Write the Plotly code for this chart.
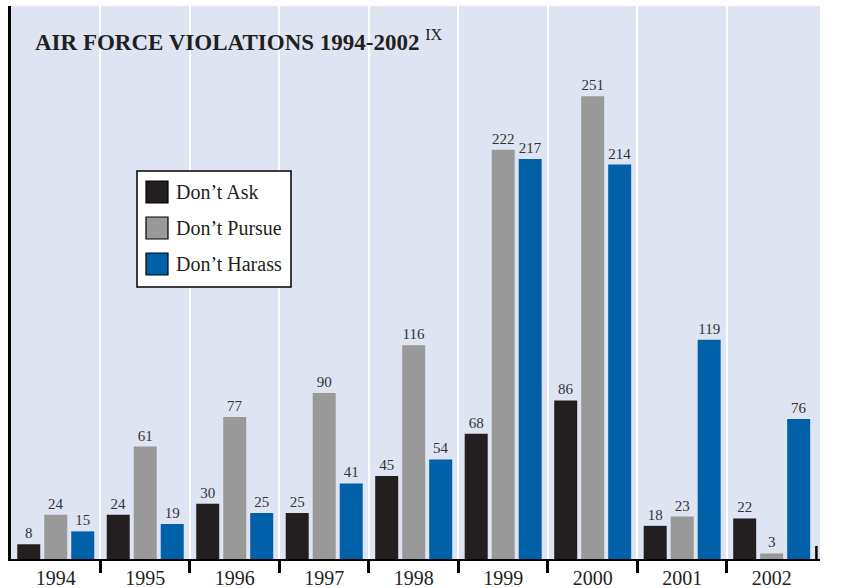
import plotly.graph_objects as go

years = ["1994", "1995", "1996", "1997", "1998", "1999", "2000", "2001", "2002"]
dont_ask = [8, 24, 30, 25, 45, 68, 86, 18, 22]
dont_pursue = [24, 61, 77, 90, 116, 222, 251, 23, 3]
dont_harass = [15, 19, 25, 41, 54, 217, 214, 119, 76]
series_names = ["Don\u2019t Ask", "Don\u2019t Pursue", "Don\u2019t Harass"]
colors = ["#231f20", "#999999", "#0061a9"]

W, H = 843, 588
L, R, T, B = 11, 23, 6, 29
PW, PH = W - L - R, H - T - B
SERIF = "Liberation Serif, Times New Roman, serif"

xpos = list(range(len(years)))

fig = go.Figure()
for name, vals, col in zip(series_names, [dont_ask, dont_pursue, dont_harass], colors):
    fig.add_trace(go.Bar(
        x=xpos, y=vals, name=name, marker=dict(color=col, line=dict(width=0)),
        text=[str(v) for v in vals], textposition="outside", cliponaxis=False,
        textfont=dict(family=SERIF, size=15, color="#333333"),
        showlegend=False, hoverinfo="skip",
    ))

def px_x(px):
    return (px - L) / PW

def px_y(py):
    return (H - B - py) / PH

shapes = []
annotations = []
# legend box
shapes.append(dict(type="rect", xref="paper", yref="paper",
                   x0=px_x(137), x1=px_x(291), y0=px_y(287), y1=px_y(171),
                   fillcolor="white", line=dict(color="black", width=1.5), layer="above"))
for i, (name, col) in enumerate(zip(series_names, colors)):
    top = 181 + i * 36
    shapes.append(dict(type="rect", xref="paper", yref="paper",
                       x0=px_x(146), x1=px_x(168), y0=px_y(top + 22), y1=px_y(top),
                       fillcolor=col, line=dict(color="black", width=1.2), layer="above"))
    annotations.append(dict(xref="paper", yref="paper", x=px_x(174), y=px_y(top + 11),
                            xanchor="left", yanchor="middle", text=name, showarrow=False,
                            font=dict(family=SERIF, size=20, color="#231f20")))
# right-end upward tick
shapes.append(dict(type="line", xref="x", yref="paper", x0=8.5, x1=8.5,
                   y0=0, y1=px_y(546), line=dict(color="black", width=2.5)))

fig.update_layout(
    width=W, height=H,
    margin=dict(l=L, r=R, t=T, b=B, autoexpand=False),
    paper_bgcolor="white", plot_bgcolor="#dfe4f2",
    barmode="group", bargap=0.095, bargroupgap=0.148,
    title=dict(text="<b>AIR FORCE VIOLATIONS 1994-2002</b> <sup>IX</sup>",
               x=35 / W, xanchor="left", y=1 - 42 / H, yanchor="middle",
               font=dict(family=SERIF, size=23, color="#231f20")),
    shapes=shapes, annotations=annotations,
    showlegend=False, hovermode=False,
)
fig.update_xaxes(
    automargin=False,
    range=[-0.5, 8.54], tickmode="array", tickvals=xpos, ticktext=years,
    ticks="", showgrid=False, zeroline=False,
    showline=True, linecolor="black", linewidth=2,
    tickfont=dict(family=SERIF, size=20, color="#231f20"),
    minor=dict(tickmode="array", tickvals=[k + 0.5 for k in range(8)],
               ticks="outside", ticklen=12, tickwidth=2.5, tickcolor="black",
               showgrid=True, gridcolor="white", gridwidth=2),
)
fig.update_yaxes(
    automargin=False,
    range=[0, 300], showgrid=False, zeroline=False, showticklabels=False, ticks="",
    showline=True, linecolor="black", linewidth=3,
)

fig.write_html("out.html", config={"displayModeBar": False},
               post_script="document.body.style.margin='0';")
